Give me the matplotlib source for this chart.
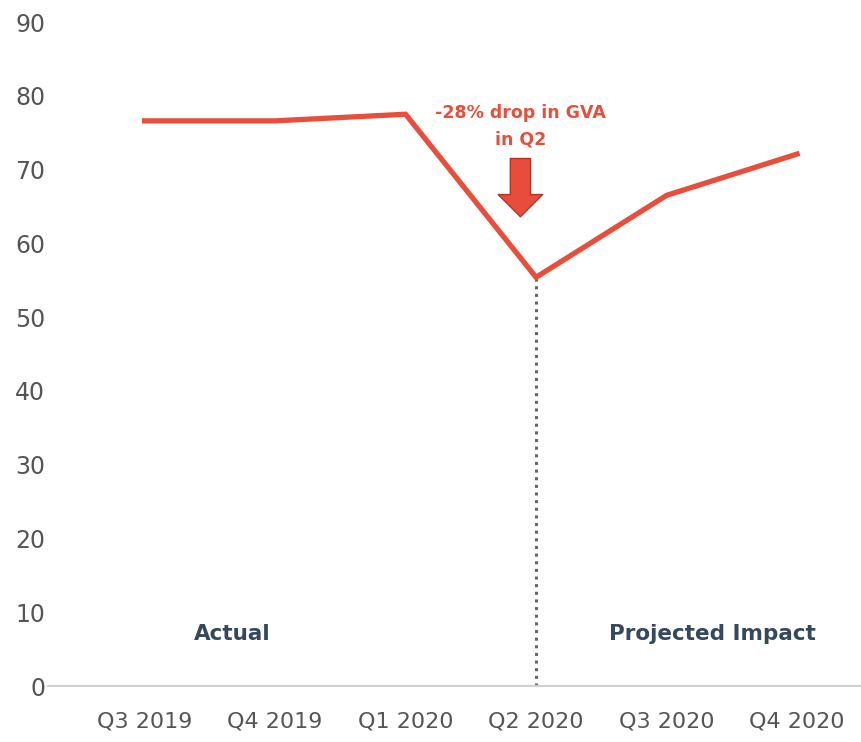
import matplotlib
matplotlib.use("Agg")
import matplotlib.pyplot as plt

quarters = ["Q3 2019", "Q4 2019", "Q1 2020", "Q2 2020", "Q3 2020", "Q4 2020"]
gva_index = [76.6, 76.6, 77.5, 55.4, 66.5, 72.1]
y_ticks = [0, 10, 20, 30, 40, 50, 60, 70, 80, 90]

RED = "#e84e3a"
DARK = "#34495e"
GREY = "#555555"

fig = plt.figure(figsize=(8.61, 7.42), dpi=100)
ax = fig.add_axes([48 / 861, 1 - 686 / 742, 1 - 48 / 861, (686 - 22) / 742])

x = list(range(len(quarters)))
ax.plot(x, gva_index, color=RED, lw=3.8, solid_joinstyle="miter", zorder=3)

# dotted divider from Q2 2020 value down to axis
ax.plot([3, 3], [0, gva_index[3]], color="#666666", lw=2.2, ls=(0, (1, 1.5)), zorder=2)

ax.set_xlim(-0.74, 5.49)
ax.set_ylim(0, 90)
ax.set_yticks(y_ticks)
ax.set_xticks(x)
ax.set_xticklabels(quarters)

for s in ["top", "right", "left"]:
    ax.spines[s].set_visible(False)
ax.spines["bottom"].set_color("#d0d0d0")
ax.spines["bottom"].set_linewidth(1.5)
ax.tick_params(axis="both", length=0, colors=GREY)
ax.tick_params(axis="y", labelsize=17, pad=2)
ax.tick_params(axis="x", labelsize=16, pad=18)

# annotation
ax.text(2.88, 75.9, "-28% drop in GVA\nin Q2", color=RED, fontsize=12.5,
        fontweight="bold", ha="center", va="center", linespacing=1.6)
ax.annotate("", xy=(2.88, 63.6), xytext=(2.88, 71.5),
            arrowprops=dict(arrowstyle="simple,tail_width=1.45,head_width=3.2,head_length=1.6",
                            fc="#e74c3c", ec="#b83224", lw=1, mutation_scale=10,
                            shrinkA=0, shrinkB=0))

ax.text(0.67, 7.0, "Actual", color=DARK, fontsize=15.5, fontweight="bold",
        ha="center", va="center")
ax.text(4.35, 7.0, "Projected Impact", color=DARK, fontsize=15.5, fontweight="bold",
        ha="center", va="center")

fig.savefig("out.png", dpi=100)
